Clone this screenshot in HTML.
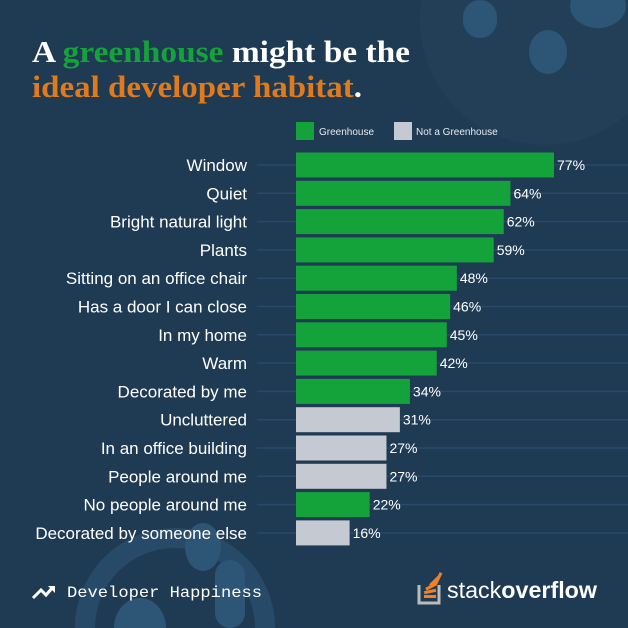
<!DOCTYPE html>
<html><head><meta charset="utf-8"><style>
html,body{margin:0;padding:0;overflow:hidden}
body{width:628px;height:628px;background:#1f3b53;overflow:hidden;position:relative;font-family:"Liberation Sans",sans-serif}
svg{position:absolute;left:0;top:0;overflow:hidden;display:block}
</style></head><body>
<svg width="628" height="628" viewBox="0 0 628 628">
  <g>
    <circle cx="545" cy="20" r="125" fill="#233f58"/>
    <rect x="463" y="0" width="34" height="38" rx="17" fill="#2d5575"/>
    <ellipse cx="598" cy="6" rx="28" ry="22" fill="#2d5575"/>
    <ellipse cx="548" cy="52" rx="19" ry="22" fill="#2d5575"/>
    <path d="M75 628 A100 100 0 0 1 275 628 L255 628 A80 80 0 0 0 95 628 Z" fill="#274a68"/>
    <ellipse cx="203" cy="547" rx="18" ry="24" fill="#2d5575"/>
    <rect x="215" y="560" width="30" height="68" rx="15" fill="#2d5575"/>
    <path d="M114 628 A26 30 0 0 1 166 628 Z" fill="#2d5575"/>
  </g>
  <text x="32" y="62" textLength="378" lengthAdjust="spacingAndGlyphs" font-family="'Liberation Serif',serif" font-weight="bold" font-size="31" fill="#fff">A <tspan fill="#14a23a">greenhouse</tspan> might be the</text>
  <text x="32" y="97" textLength="330" lengthAdjust="spacingAndGlyphs" font-family="'Liberation Serif',serif" font-weight="bold" font-size="31" fill="#e07a1a">ideal developer habitat<tspan fill="#fff">.</tspan></text>
  <g>
    <rect x="296" y="122" width="18" height="18" fill="#14a23a"/>
    <text x="319" y="135" font-size="10" fill="#e6eaee">Greenhouse</text>
    <rect x="394" y="122" width="18" height="18" fill="#c5cad2"/>
    <text x="416" y="135" font-size="10" fill="#e6eaee">Not a Greenhouse</text>
  </g>
  <g id="bars"></g>
  <g>
    <path d="M33 598 L41 590 L46 595 L53 587" stroke="#fff" stroke-width="3" fill="none"/>
    <path d="M48 586 L55 586 L55 593 Z" fill="#fff"/>
    <text x="67" y="597" font-family="'Liberation Mono',monospace" font-size="16" textLength="195" lengthAdjust="spacingAndGlyphs" fill="#fff">Developer Happiness</text>
    <g>
      <path d="M419 585 V603 H439 V585" stroke="#bcbbbb" stroke-width="3" fill="none"/>
      <rect x="424" y="595" width="12" height="3" fill="#f48024"/>
      <rect x="424" y="590" width="12" height="3" fill="#f48024" transform="rotate(-12 430 591)"/>
      <rect x="425" y="585" width="12" height="3" fill="#f48024" transform="rotate(-28 431 586)"/>
      <rect x="428" y="580" width="12" height="3" fill="#f48024" transform="rotate(-45 434 581)"/>
      <rect x="432" y="577" width="12" height="3" fill="#f48024" transform="rotate(-65 438 578)"/>
      <text x="447" y="598" font-size="23" textLength="150" lengthAdjust="spacingAndGlyphs" fill="#fff">stack<tspan font-weight="bold">overflow</tspan></text>
    </g>
  </g>
</svg>
<script>
const categories=["Window","Quiet","Bright natural light","Plants","Sitting on an office chair","Has a door I can close","In my home","Warm","Decorated by me","Uncluttered","In an office building","People around me","No people around me","Decorated by someone else"];
const values=[77,64,62,59,48,46,45,42,34,31,27,27,22,16];
const isGreenhouse=[1,1,1,1,1,1,1,1,1,0,0,0,1,0];
const NS="http://www.w3.org/2000/svg";
const g=document.getElementById('bars');
const x0=296, pxPer=258/77;
function xScale(v){return v*pxPer;}
function yScale(i){return 165+i*28.3;}
function mk(t,a){const e=document.createElementNS(NS,t);for(const k in a)e.setAttribute(k,a[k]);return e;}
categories.forEach((c,i)=>{
  const y=yScale(i);
  const line=mk('line',{x1:257,x2:628,y1:y,y2:y,stroke:'#28496a','stroke-width':1.5});
  
  
  g.appendChild(line);
  const lab=mk('text',{x:247,y:y+6,'text-anchor':'end','font-size':17,fill:'#fff'});
  lab.textContent=c;
  
  
  g.appendChild(lab);
  const w=xScale(values[i]);
  const bar=mk('rect',{x:x0,y:y-12.5,width:w,height:25,fill:isGreenhouse[i]?'#14a23a':'#c5cad2'});
  
  
  g.appendChild(bar);
  const val=mk('text',{x:x0+w+3,y:y+5,'font-size':14,fill:'#fff'});
  val.textContent=values[i]+'%';
  
  
  g.appendChild(val);
});
</script>
</body></html>
